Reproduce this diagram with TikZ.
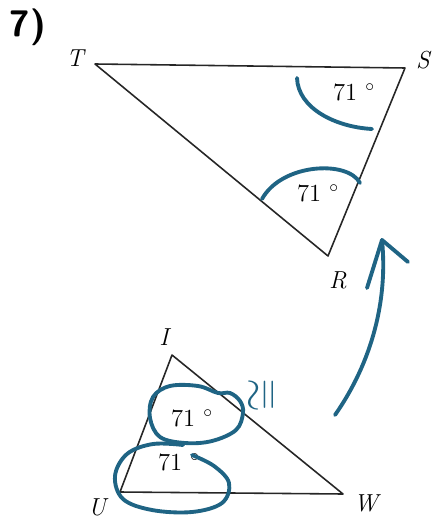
\documentclass[tikz,border=0pt]{standalone}
\usetikzlibrary{calc}
\definecolor{pen}{RGB}{31,100,132}
\tikzset{
  tri/.style={line width=0.9pt, black!85, line join=round},
  ink/.style={pen, line width=2.2pt, line cap=round, line join=round},
  vlabel/.style={font=\fontsize{14}{16}\selectfont\itshape, inner sep=0pt},
  anglab/.style={font=\fontsize{14}{16}\selectfont, inner sep=0pt}
}
\begin{document}
\begin{tikzpicture}[x=0.02cm,y=-0.02cm]
\useasboundingbox (0,0) rectangle (433,523);
% problem number
\node[font=\fontsize{21}{24}\selectfont\sffamily\bfseries, inner sep=0pt] (num) at (28,27) {7)};
% upper triangle
\coordinate (T) at (95,64);
\coordinate (S) at (405,68);
\coordinate (R) at (328,256);
\draw[tri] (T) -- (S) -- (R) -- cycle;
\node[vlabel] (lT) at (75,58) {T};
\node[vlabel] (lS) at (423,60) {S};
\node[vlabel] (lR) at (338,280) {R};
\node[anglab] (aS) at (354,92) {71\,\,$^{\circ}$};
\node[anglab] (aR) at (318,193) {71\,\,$^{\circ}$};
% blue arcs on upper triangle
\coordinate (s1) at (297,78);
\coordinate (s2) at (372,129);
\draw[ink] (s1) .. controls (298,108) and (335,127) .. (s2);
\coordinate (r1) at (262,199);
\coordinate (r2) at (360,183);
\draw[ink] (r1) .. controls (282,163) and (348,160) .. (r2);
% lower triangle
\coordinate (I) at (172,355);
\coordinate (U) at (120,492);
\coordinate (W) at (343,494);
\draw[tri] (I) -- (W) -- (U) -- cycle;
\node[vlabel] (lI) at (164,337) {I};
\node[vlabel] (lU) at (97,507) {U};
\node[vlabel] (lW) at (366,503) {W};
\node[anglab] (aI) at (192,418) {71\,\,$^{\circ}$};
\node[anglab] (aU) at (179,462) {71\,\,$^{\circ}$};
% blue loops
\draw[ink] plot[smooth cycle, tension=0.6] coordinates {(150,418) (153,397) (170,386) (198,386) (218,393) (230,393) (240,401) (243,413) (236,430) (212,441) (185,443) (160,437)};
\draw[ink] plot[smooth, tension=0.6] coordinates {(192,455) (214,466) (229,483) (222,503) (192,512) (152,510) (123,499) (115,476) (127,454) (153,444) (183,445)};
% congruence sign
\node[pen, font=\fontsize{25}{27}\selectfont, rotate=90, inner sep=0pt] (cong) at (264,395) {$\cong$};
% arrow
\coordinate (ab) at (335,415);
\coordinate (at) at (382,240);
\coordinate (hl) at (367,288);
\coordinate (hr) at (408,262);
\draw[ink] (ab) .. controls (372,362) and (388,300) .. (at);
\draw[ink] (hl) -- (at) -- (hr);
\end{tikzpicture}
\end{document}
